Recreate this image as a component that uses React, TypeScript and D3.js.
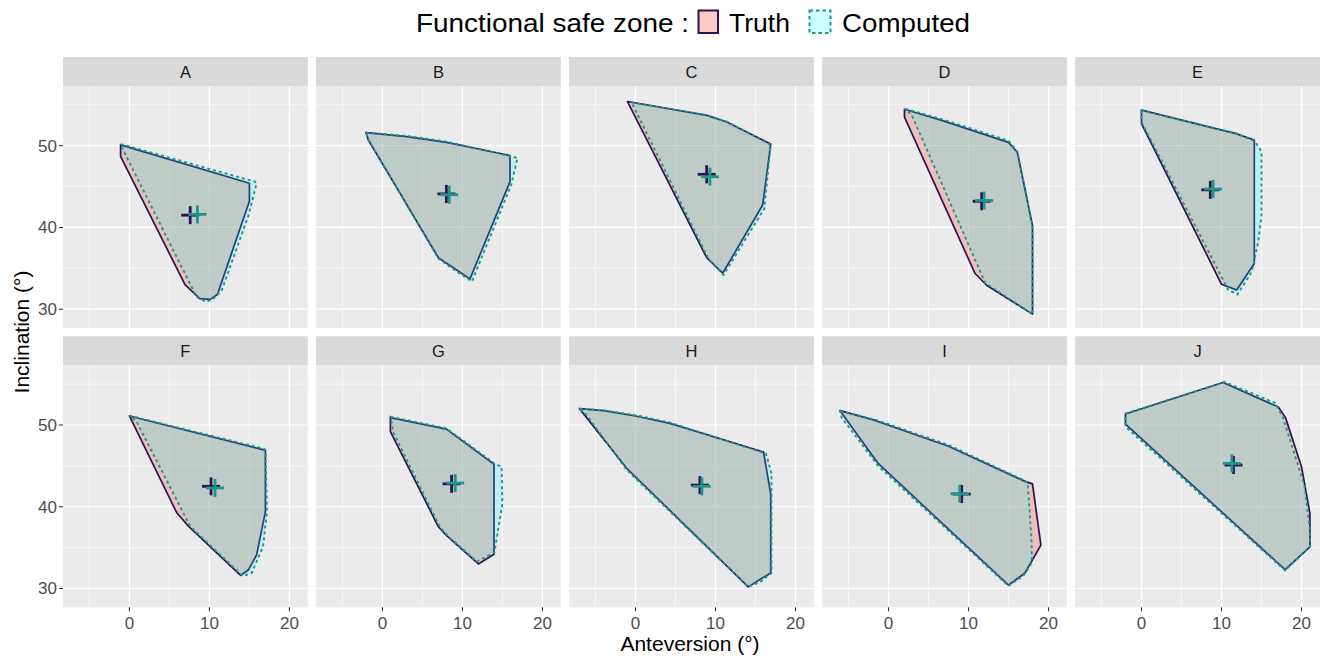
import React from "react";
import * as d3 from "d3";

// ---------- data ----------
const panelNames = ["A", "B", "C", "D", "E", "F", "G", "H", "I", "J"];

const truthA = [[-1.1, 50.1], [15.0, 45.4], [15.0, 43.2], [11.0, 31.8], [10.1, 31.2], [8.8, 31.3], [6.95, 33.0], [-1.1, 48.7]];
const compA = [[-1.1, 50.2], [15.7, 45.6], [15.9, 45.4], [14.9, 41.5], [11.5, 32.2], [10.4, 31.2], [9.6, 30.9], [8.4, 31.5], [-0.7, 49.3]];
const truthB = [[-2.05, 51.6], [3.0, 51.1], [8.0, 50.4], [15.95, 48.8], [15.95, 45.6], [10.95, 33.7], [7.0, 36.3], [-1.75, 50.7]];
const compB = [[-2.05, 51.6], [3.0, 51.2], [8.0, 50.5], [16.9, 48.5], [16.1, 45.2], [11.2, 33.4], [9.3, 34.6], [7.0, 36.2], [-1.75, 50.7]];
const truthC = [[-1.0, 55.4], [8.9, 53.7], [11.4, 52.9], [16.9, 50.2], [15.9, 42.75], [10.9, 34.4], [8.9, 36.3]];
const compC = [[-0.5, 55.3], [8.9, 53.75], [11.4, 52.95], [16.9, 50.1], [16.1, 42.3], [11.0, 34.2], [9.2, 36.0], [-0.35, 55.0]];
const truthD = [[2.0, 54.45], [6.65, 53.1], [15.0, 50.4], [16.1, 49.2], [18.0, 40.2], [18.0, 29.4], [12.3, 32.9], [10.8, 34.4], [2.0, 53.5]];
const compD = [[2.1, 54.5], [6.65, 53.25], [15.0, 50.6], [16.1, 49.3], [18.0, 40.2], [18.0, 29.4], [12.1, 33.2], [2.9, 53.75]];
const truthE = [[0.0, 54.35], [10.0, 51.9], [11.7, 51.5], [14.1, 50.7], [14.1, 35.6], [11.9, 32.35], [10.0, 33.05], [0.0, 52.7]];
const compE = [[0.0, 54.35], [10.0, 51.95], [11.7, 51.55], [14.1, 50.6], [15.0, 49.3], [15.0, 41.5], [14.6, 38.3], [13.8, 34.6], [12.0, 31.8], [10.85, 32.35], [0.0, 52.9]];
const truthF = [[0.0, 51.1], [17.0, 46.9], [17.0, 39.4], [15.9, 34.1], [14.9, 32.3], [13.9, 31.6], [7.4, 37.6], [5.9, 39.3]];
const compF = [[0.0, 51.15], [16.8, 47.1], [17.0, 46.9], [17.2, 39.4], [16.7, 35.1], [15.3, 31.9], [14.2, 31.5], [7.6, 37.6], [0.9, 50.4]];
const truthG = [[1.0, 50.9], [8.0, 49.5], [13.95, 45.2], [13.95, 34.2], [12.0, 33.0], [8.0, 36.5], [7.0, 37.55], [1.0, 49.2]];
const compG = [[1.0, 51.0], [8.0, 49.6], [14.0, 45.3], [14.9, 44.9], [15.0, 40.4], [14.0, 34.4], [11.8, 33.3], [8.2, 36.4], [7.2, 37.5], [1.4, 49.0]];
const truthH = [[-7.0, 52.0], [-4.0, 51.75], [0.0, 51.1], [4.3, 50.2], [16.0, 46.7], [16.9, 41.6], [16.9, 31.9], [14.1, 30.2], [-1.1, 44.7]];
const compH = [[-7.0, 52.0], [-4.0, 51.8], [0.0, 51.2], [4.3, 50.3], [16.3, 46.5], [17.0, 44.1], [17.0, 31.9], [15.6, 30.8], [14.1, 30.2], [-1.1, 44.5], [-6.1, 51.2]];
const truthI = [[-6.05, 51.75], [-1.8, 50.6], [7.5, 47.4], [17.05, 43.1], [18.0, 42.8], [19.05, 35.3], [17.05, 31.9], [15.0, 30.4], [-1.3, 45.3]];
const compI = [[-6.05, 51.7], [-1.8, 50.7], [7.5, 47.55], [17.0, 43.2], [17.4, 42.9], [17.9, 35.6], [17.9, 33.1], [16.9, 31.6], [15.0, 30.3], [-1.3, 45.0], [-5.85, 50.9]];
const truthJ = [[-2.0, 51.35], [10.2, 55.2], [17.1, 52.2], [18.0, 50.9], [20.0, 44.9], [21.05, 39.2], [21.05, 35.1], [17.95, 32.3], [-2.0, 50.1]];
const compJ = [[-2.0, 51.4], [10.4, 55.25], [16.7, 52.7], [17.7, 50.9], [20.4, 42.45], [21.05, 37.1], [21.05, 35.1], [17.95, 32.2], [-2.0, 49.8]];

const truthPolys = [truthA, truthB, truthC, truthD, truthE, truthF, truthG, truthH, truthI, truthJ];
const compPolys = [compA, compB, compC, compD, compE, compF, compG, compH, compI, compJ];

const truthCentreX = [7.6, 8.0, 8.9, 11.65, 8.6, 10.2, 8.65, 8.05, 9.15, 11.5];
const truthCentreY = [41.5, 44.1, 46.5, 43.2, 44.6, 42.5, 42.8, 42.65, 41.55, 45.1];
const compCentreX = [8.5, 8.35, 9.3, 11.95, 8.95, 10.7, 9.1, 8.3, 8.9, 11.3];
const compCentreY = [41.6, 44.0, 46.2, 43.3, 44.7, 42.3, 42.9, 42.5, 41.6, 45.3];

const xTicks = [0, 10, 20];
const xMinor = [-5, 5, 15];
const yTicks = [30, 40, 50];
const yMinor = [35, 45, 55];

const legendTitle = "Functional safe zone :";
const legendLabels = ["Truth", "Computed"];
const xTitle = "Anteversion (°)";
const yTitle = "Inclination (°)";

// ---------- style ----------
const FONT = "'Liberation Sans', Arial, Helvetica, sans-serif";
const TRUTH_STROKE = "#2E1250";
const COMP_STROKE = "#1F968B";
const TRUTH_FILL = "#F8766D";
const COMP_FILL = "#00FFFF";

const W = 1322;
const H = 656;
const panelW = 244.8;
const panelH = 242;
const stripH = 29;
const colLeft = [63, 316, 569.1, 822.1, 1075.1];
const rowPlotTop = [86, 365.3];

export default function App() {
  const x = d3.scaleLinear().domain([-8.3, 22.3]).range([0, panelW]);
  const y = d3.scaleLinear().domain([27.7, 57.3]).range([panelH, 0]);
  const line = d3
    .line<number[]>()
    .x((d) => x(d[0]))
    .y((d) => y(d[1]))
    .curve(d3.curveLinearClosed);
  const arm = 9;

  return (
    <svg width={W} height={H} style={{ display: "block", position: "absolute", left: 0, top: 0 }} fontFamily={FONT}>
      <rect x={0} y={0} width={W} height={H} fill="#ffffff" />
      {/* legend */}
      <g>
        <text x={416} y={32} fontSize={26.5} fill="#000" textLength={273} lengthAdjust="spacingAndGlyphs">{legendTitle}</text>
        <rect x={698.5} y={10.5} width={19.5} height={22.5} fill={TRUTH_FILL} fillOpacity={0.38} stroke={TRUTH_STROKE} strokeWidth={2} />
        <text x={729} y={32} fontSize={26.5} fill="#000">{legendLabels[0]}</text>
        <rect x={809.5} y={10.5} width={21} height={22.5} fill={COMP_FILL} fillOpacity={0.2} stroke={COMP_STROKE} strokeWidth={2} strokeDasharray="3.5,3" />
        <text x={842} y={32} fontSize={26.5} fill="#000" textLength={128} lengthAdjust="spacingAndGlyphs">{legendLabels[1]}</text>
      </g>
      {panelNames.map((name, i) => {
        const col = i % 5;
        const row = Math.floor(i / 5);
        const left = colLeft[col];
        const top = rowPlotTop[row];
        const tp = truthPolys[i];
        const cp = compPolys[i];
        return (
          <g key={name}>
            {/* strip */}
            <rect x={left} y={top - stripH} width={panelW} height={stripH} fill="#D9D9D9" />
            <text x={left + panelW / 2} y={top - stripH / 2 + 6} fontSize={16.5} fill="#1A1A1A" textAnchor="middle">{name}</text>
            <g transform={`translate(${left},${top})`}>
              <rect x={0} y={0} width={panelW} height={panelH} fill="#EBEBEB" />
              {xMinor.map((v) => (
                <line key={"xm" + v} x1={x(v)} x2={x(v)} y1={0} y2={panelH} stroke="#fff" strokeWidth={0.6} />
              ))}
              {yMinor.map((v) => (
                <line key={"ym" + v} x1={0} x2={panelW} y1={y(v)} y2={y(v)} stroke="#fff" strokeWidth={0.6} />
              ))}
              {xTicks.map((v) => (
                <line key={"xM" + v} x1={x(v)} x2={x(v)} y1={0} y2={panelH} stroke="#fff" strokeWidth={1.2} />
              ))}
              {yTicks.map((v) => (
                <line key={"yM" + v} x1={0} x2={panelW} y1={y(v)} y2={y(v)} stroke="#fff" strokeWidth={1.2} />
              ))}
              <path d={line(tp) || ""} fill={TRUTH_FILL} fillOpacity={0.38} stroke={TRUTH_STROKE} strokeWidth={1.7} strokeLinejoin="round" />
              <path d={line(cp) || ""} fill={COMP_FILL} fillOpacity={0.2} stroke={COMP_STROKE} strokeWidth={1.9} strokeDasharray="3,3" />
              {/* truth cross */}
              <g stroke={TRUTH_STROKE} strokeWidth={2.8}>
                <line x1={x(truthCentreX[i]) - arm} x2={x(truthCentreX[i]) + arm} y1={y(truthCentreY[i])} y2={y(truthCentreY[i])} />
                <line x1={x(truthCentreX[i])} x2={x(truthCentreX[i])} y1={y(truthCentreY[i]) - arm} y2={y(truthCentreY[i]) + arm} />
              </g>
              <g stroke={COMP_STROKE} strokeWidth={2.8}>
                <line x1={x(compCentreX[i]) - arm} x2={x(compCentreX[i]) + arm} y1={y(compCentreY[i])} y2={y(compCentreY[i])} />
                <line x1={x(compCentreX[i])} x2={x(compCentreX[i])} y1={y(compCentreY[i]) - arm} y2={y(compCentreY[i]) + arm} />
              </g>
              {/* y axis on first column */}
              {col === 0 &&
                yTicks.map((v) => (
                  <g key={"yt" + v}>
                    <line x1={-4} x2={0} y1={y(v)} y2={y(v)} stroke="#333" strokeWidth={1.1} />
                    <text x={-6} y={y(v) + 6} fontSize={17} fill="#4D4D4D" textAnchor="end">{v}</text>
                  </g>
                ))}
              {/* x axis on bottom row */}
              {row === 1 &&
                xTicks.map((v) => (
                  <g key={"xt" + v}>
                    <line x1={x(v)} x2={x(v)} y1={panelH} y2={panelH + 4} stroke="#333" strokeWidth={1.1} />
                    <text x={x(v)} y={panelH + 21.5} fontSize={17} fill="#4D4D4D" textAnchor="middle">{v}</text>
                  </g>
                ))}
            </g>
          </g>
        );
      })}
      <text x={690} y={651} fontSize={21} fill="#000" textAnchor="middle">{xTitle}</text>
      <text transform="translate(29,332) rotate(-90)" fontSize={21} fill="#000" textAnchor="middle">{yTitle}</text>
    </svg>
  );
}
